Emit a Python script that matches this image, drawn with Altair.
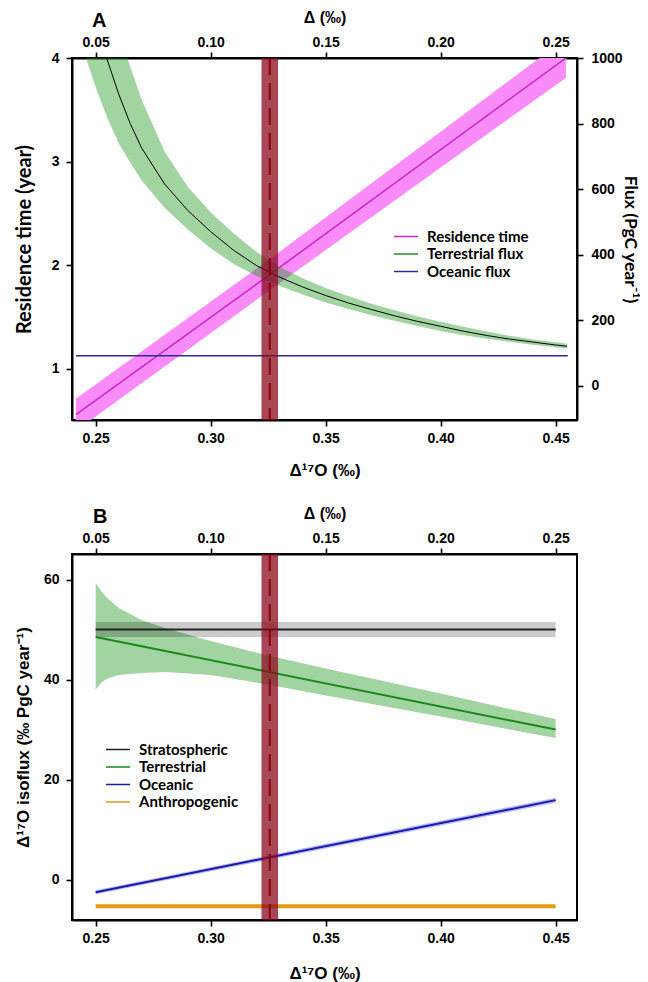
import altair as alt
import pandas as pd

# ---------------- Panel A data ----------------
res_x = [0.2414, 0.3258, 0.4545]
res_y = [0.556, 1.91, 4.00]
res_lo = [0.40, 1.76, 3.81]
res_hi = [0.71, 2.06, 4.19]

terr_x = [0.242, 0.245, 0.25, 0.255, 0.26, 0.265, 0.27, 0.28, 0.29, 0.30, 0.31, 0.32, 0.33,
          0.34, 0.35, 0.36, 0.37, 0.38, 0.39, 0.40, 0.41, 0.42, 0.43, 0.44, 0.45, 0.455]
terr_y = [1290, 1220, 1100, 995, 890, 800, 725, 615, 535, 470, 413, 366, 331,
          301, 275, 252, 232, 213, 196, 181, 166, 153, 142, 133, 124, 120]
terr_lo = [1079, 1016, 911, 818, 740, 681, 626, 543, 477, 419, 371, 334, 304,
           278, 254, 234, 215, 198, 182, 167, 154, 143, 134, 125, 117, 113]
terr_hi = [1500, 1420, 1310, 1196, 1079, 974, 872, 714, 607, 529, 464, 408, 362,
           328, 298, 273, 250, 230, 211, 195, 180, 165, 152, 141, 132, 128]

ocean_x = [0.2414, 0.4553]
ocean_flux = [91, 91]

legendA_names = ["Residence time", "Terrestrial flux", "Oceanic flux"]
legendA_colors = ["#cc22cc", "#2a8a2a", "#2b2b9e"]

# observed band (both panels)
obs_band = [0.3221, 0.3293]
obs_mid = [0.3257]

# ---------------- Panel B data ----------------
strat_x = [0.25, 0.45]
strat_y = [50.0, 50.0]
strat_lo = [48.5, 48.5]
strat_hi = [51.5, 51.5]

terrB_x = [0.25, 0.45]
terrB_y = [48.5, 30.0]
terrB_band_x = [0.25, 0.2525, 0.255, 0.26, 0.27, 0.28, 0.30, 0.325, 0.35, 0.40, 0.45]
terrB_hi = [59.3, 57.6, 56.3, 54.3, 51.9, 50.3, 47.7, 44.8, 42.2, 37.2, 32.1]
terrB_lo = [38.0, 39.4, 40.2, 40.9, 41.3, 41.5, 40.9, 39.0, 36.8, 32.6, 28.3]

oceanB_x = [0.25, 0.45]
oceanB_y = [-2.5, 15.9]
oceanB_lo = [-2.9, 15.4]
oceanB_hi = [-2.1, 16.4]

anthro_x = [0.25, 0.45]
anthro_y = [-5.3, -5.3]

legendB_names = ["Stratospheric", "Terrestrial", "Oceanic", "Anthropogenic"]
legendB_colors = ["#222222", "#1a8a1a", "#1a1aaa", "#e69a10"]

x_ticks = [0.25, 0.30, 0.35, 0.40, 0.45]
x_domain = [0.2397, 0.4593]

# ---------------- frames ----------------
df_res = pd.DataFrame({"x": res_x, "y": res_y, "lo": res_lo, "hi": res_hi,
                       "series": ["Residence time"] * len(res_x)})
df_terr = pd.DataFrame({"x": terr_x, "y": terr_y, "lo": terr_lo, "hi": terr_hi})
df_ocean = pd.DataFrame({"x": ocean_x, "y": ocean_flux, "series": ["Oceanic flux"] * 2})
df_obs = pd.DataFrame({"x0": [obs_band[0]], "x1": [obs_band[1]], "xm": obs_mid})

df_strat = pd.DataFrame({"x": strat_x, "y": strat_y, "lo": strat_lo, "hi": strat_hi,
                         "series": ["Stratospheric"] * 2})
df_terrB = pd.DataFrame({"x": terrB_x, "y": terrB_y, "series": ["Terrestrial"] * 2})
df_terrB_band = pd.DataFrame({"x": terrB_band_x, "lo": terrB_lo, "hi": terrB_hi})
df_oceanB = pd.DataFrame({"x": oceanB_x, "y": oceanB_y, "lo": oceanB_lo, "hi": oceanB_hi,
                          "series": ["Oceanic"] * 2})
df_anthro = pd.DataFrame({"x": anthro_x, "y": anthro_y, "series": ["Anthropogenic"] * 2})
df_linesB = pd.concat([df_strat[["x", "y", "series"]], df_terrB, df_oceanB[["x", "y", "series"]]])

# ---------------- scales / axes ----------------
ARIAL = "Liberation Sans"
CAL = "Lato"

xscale = alt.Scale(domain=x_domain, nice=False, zero=False)

COMMON = dict(grid=False, domainColor="black", domainWidth=2, tickColor="black", tickWidth=1.6,
              tickSize=6, labelFont=ARIAL, labelFontSize=14, labelFontWeight="bold",
              labelColor="black", labelFlush=False, labelOverlap=False, titleColor="black",
              titleFontWeight="bold")


def ax_bottom(tp):
    return alt.Axis(orient="bottom", values=x_ticks, format=".2f", title="Δ¹⁷O (‰)",
                    titleFont=ARIAL, titleFontSize=17, titlePadding=tp, labelPadding=5, **COMMON)


def ax_top():
    return alt.Axis(orient="top", values=x_ticks, labelExpr="format(datum.value - 0.2, '.2f')",
                    title="Δ (‰)", titleFont=ARIAL, titleFontSize=16, titlePadding=10,
                    labelPadding=3, **COMMON)


def XB(field="x", tp=17):
    return alt.X(f"{field}:Q", scale=xscale, axis=ax_bottom(tp), title="Δ¹⁷O (‰)")


def XT(field="x"):
    return alt.X(f"{field}:Q", scale=xscale, axis=ax_top(), title="Δ (‰)")


yA_left = alt.Scale(domain=[0.505, 4.0], nice=False, zero=False)
yA_right = alt.Scale(domain=[-105, 1000], nice=False, zero=False)
yB = alt.Scale(domain=[-8.06, 65.1], nice=False, zero=False)

TL = "Residence time (year)"
TR = "Flux (PgC year⁻¹)"
TB = "Δ¹⁷O isoflux (‰ PgC year⁻¹)"


def ax_left_A():
    return alt.Axis(orient="left", values=[1, 2, 3, 4], format="d", title=TL,
                    titleFont=CAL, titleFontSize=20, minExtent=34, maxExtent=34, titlePadding=4,
                    labelPadding=7, **COMMON)


def ax_right_A():
    return alt.Axis(orient="right", values=[0, 200, 400, 600, 800, 1000], format="d", title=TR,
                    titleFont=CAL, titleFontSize=17.5, labelPadding=8, titlePadding=-2, **COMMON)


def ax_left_B():
    return alt.Axis(orient="left", values=[0, 20, 40, 60], format="d", title=TB,
                    titleFont=ARIAL, titleFontSize=17, minExtent=34, maxExtent=34, titlePadding=6,
                    labelPadding=7, **COMMON)


def legend(x, y):
    return alt.Legend(title=None, orient="none", legendX=x, legendY=y, labelFont=CAL,
                      labelFontSize=15, labelFontWeight="bold", labelColor="black",
                      symbolType="stroke", symbolSize=576, symbolStrokeWidth=1.6,
                      clipHeight=17, rowPadding=0.5, padding=0, labelOffset=8)


colA = alt.Scale(domain=legendA_names, range=legendA_colors)
colB = alt.Scale(domain=legendB_names, range=legendB_colors)

# ---------------- Panel A ----------------
pink = alt.Chart(df_res).mark_area(color="#f98cf9", clip=True).encode(
    x=XB(), y=alt.Y("lo:Q", scale=yA_left, axis=ax_left_A(), title=TL), y2="hi:Q")
mag = alt.Chart(df_res).mark_line(strokeWidth=1.5, clip=True).encode(
    x=XB(), y=alt.Y("y:Q", scale=yA_left, axis=ax_left_A(), title=TL),
    color=alt.Color("series:N", scale=colA, legend=legend(321, 170)))
leftA = alt.layer(pink, mag)

green = alt.Chart(df_terr).mark_area(color="#229922", opacity=0.42, clip=True).encode(
    x=XT(), y=alt.Y("lo:Q", scale=yA_right, axis=ax_right_A(), title=TR), y2="hi:Q")
blackc = alt.Chart(df_terr).mark_line(color="black", strokeWidth=1, clip=True).encode(
    x=XT(), y=alt.Y("y:Q", scale=yA_right, axis=ax_right_A(), title=TR))
blue = alt.Chart(df_ocean).mark_line(strokeWidth=1.6, clip=True).encode(
    x=XT(), y=alt.Y("y:Q", scale=yA_right, axis=ax_right_A(), title=TR),
    color=alt.Color("series:N", scale=colA, legend=legend(321, 170)))
obsA = alt.Chart(df_obs).mark_rect(color="#8b0a1e", opacity=0.75).encode(
    x=XT("x0"), x2="x1:Q")
obsA_line = alt.Chart(df_obs).mark_rule(color="#8b0010", strokeWidth=2, strokeDash=[17, 8]).encode(
    x=XT("xm"))
rightA = alt.layer(green, blackc, blue, obsA, obsA_line)

panelA = alt.layer(leftA, rightA).resolve_scale(y="independent").resolve_axis(
    x="independent", y="independent").properties(
    width=505, height=362,
    title=alt.TitleParams("A", anchor="start", frame="group", dx=20, offset=-22,
                          fontSize=20, font=ARIAL, fontWeight="bold"))

# ---------------- Panel B ----------------
def YB(field):
    return alt.Y(f"{field}:Q", scale=yB, axis=ax_left_B(), title=TB)


def XBB():
    return XB(tp=20)


terrB_band = alt.Chart(df_terrB_band).mark_area(color="#229922", opacity=0.42).encode(
    x=XBB(), y=YB("lo"), y2="hi:Q")
strat_band = alt.Chart(df_strat).mark_area(color="black", opacity=0.2).encode(
    x=XBB(), y=YB("lo"), y2="hi:Q")
oceanB_band = alt.Chart(df_oceanB).mark_area(color="#6060ff", opacity=0.45).encode(
    x=XBB(), y=YB("lo"), y2="hi:Q")
linesB = alt.Chart(df_linesB).mark_line(strokeWidth=2).encode(
    x=XBB(), y=YB("y"), detail="series:N",
    color=alt.Color("series:N", scale=colB, legend=legend(33, 187)))
anthroB = alt.Chart(df_anthro).mark_line(strokeWidth=4).encode(
    x=XBB(), y=YB("y"),
    color=alt.Color("series:N", scale=colB, legend=legend(33, 187)))
bottomB = alt.layer(terrB_band, strat_band, oceanB_band, linesB, anthroB)

obsB = alt.Chart(df_obs).mark_rect(color="#8b0a1e", opacity=0.75).encode(
    x=XT("x0"), x2="x1:Q")
obsB_line = alt.Chart(df_obs).mark_rule(color="#8b0010", strokeWidth=2, strokeDash=[17, 8]).encode(
    x=XT("xm"))
topB = alt.layer(obsB, obsB_line)

panelB = alt.layer(bottomB, topB).resolve_axis(x="independent").properties(
    width=505, height=366,
    title=alt.TitleParams("B", anchor="start", frame="group", dx=21, offset=-22,
                          fontSize=20, font=ARIAL, fontWeight="bold"))

chart = alt.vconcat(panelA, panelB, spacing=25).resolve_scale(color="independent").properties(
    padding={"left": 13, "top": 8, "right": 0, "bottom": 0}
).configure(background="white").configure_view(stroke="black", strokeWidth=2)

chart.save("out.html", embed_options={"renderer": "svg", "actions": False})
